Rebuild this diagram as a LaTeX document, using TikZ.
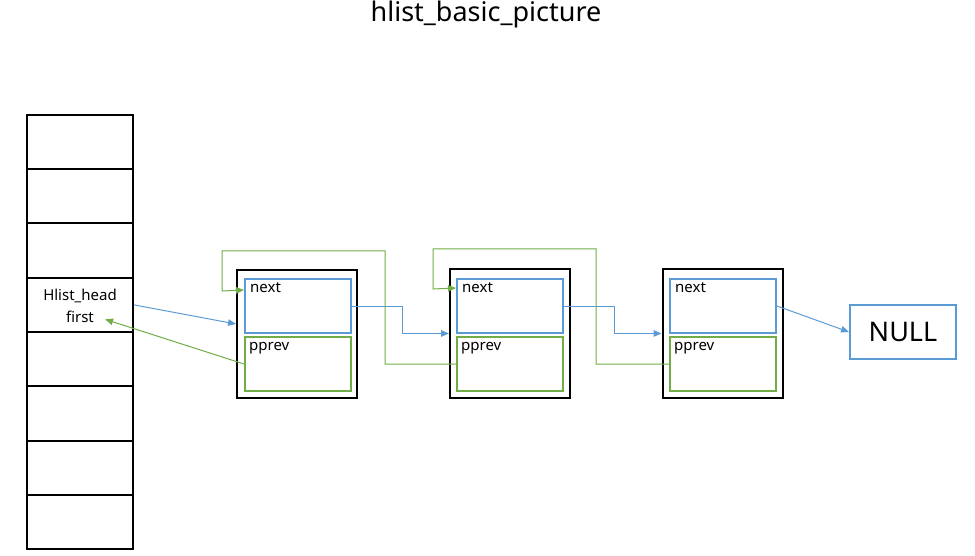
\documentclass[tikz,border=0pt]{standalone}
\usepackage{fontspec}
\setmainfont{Noto Sans}
\usepackage{xcolor}
\usetikzlibrary{arrows.meta}
\definecolor{nextblue}{HTML}{5B9BD5}
\definecolor{prevgreen}{HTML}{70AD47}

\begin{document}
\begin{tikzpicture}[x=1pt,y=-1pt,
    cell/.style={draw,line width=2pt,minimum width=106pt,minimum height=54.25pt,inner sep=0pt},
    entry/.style={draw,line width=2pt,minimum width=120pt,minimum height=128pt,inner sep=0pt},
    nextbox/.style={draw=nextblue,line width=2pt,minimum width=106pt,minimum height=54pt,inner sep=0pt},
    prevbox/.style={draw=prevgreen,line width=2pt,minimum width=106pt,minimum height=54pt,inner sep=0pt},
    tag/.style={anchor=base west,inner sep=0pt,font=\fontsize{15}{18}\selectfont},
    bline/.style={nextblue,line width=1pt,-{Triangle[length=8pt,width=6.5pt]}},
    gline/.style={prevgreen,line width=1pt,-{Triangle[length=8pt,width=6.5pt]}}]
    \useasboundingbox (0,0) rectangle (975,556);

    % title
    \node[font=\fontsize{27}{32}\selectfont] (title) at (486,14) {hlist\_basic\_picture};

    % hash table
    \foreach \i in {1,...,8}
        \node[cell] (r\i) at (80,{115+54.25*(\i-0.5)}) {};
    \node[anchor=base,inner sep=1pt,font=\fontsize{15}{18}\selectfont] (hname) at (80,301) {Hlist\_head};
    \node[anchor=base,inner sep=1pt,font=\fontsize{15}{18}\selectfont] (hfirst) at (80,322) {first};

    % list entries
    \node[entry] (n1) at (297,334) {};
    \node[nextbox] (nx1) at (298,306) {};
    \node[prevbox] (pv1) at (298,364) {};

    \node[entry] (n2) at (510,333.5) {};
    \node[nextbox] (nx2) at (510,306) {};
    \node[prevbox] (pv2) at (510,364) {};

    \node[entry] (n3) at (722.5,333.5) {};
    \node[nextbox] (nx3) at (723,306) {};
    \node[prevbox] (pv3) at (723,364) {};

    % field names
    \foreach \k in {1,2,3} {
        \node[tag] (nt\k) at ([xshift=6pt,yshift=-15pt]nx\k.north west) {next};
        \node[tag] (pt\k) at ([xshift=5pt,yshift=-14pt]pv\k.north west) {pprev};
    }

    \node[draw=nextblue,line width=2pt,minimum width=106pt,minimum height=54pt,
        font=\fontsize{27}{32}\selectfont] (null) at (903,332) {NULL};

    % next pointers
    \draw[bline] (r4.east) -- ([yshift=10pt]n1.west);
    \draw[bline] (nx1.east) -- ++(50,0) |- (n2.west);
    \draw[bline] (nx2.east) -- ++(50,0) |- (n3.west);
    \draw[bline] (nx3.east) -- (null.west);

    % pprev pointers
    \draw[gline] (pv1.west) -- ([xshift=10pt,yshift=-3pt]hfirst.east);
    \draw[gline] (pv2.west) -| (385,251) -| (222,291) -- ([yshift=-12pt]nx1.north west);
    \draw[gline] (pv3.west) -| (596,249) -| (433,289) -- ([yshift=-10pt]nx2.north west);
\end{tikzpicture}
\end{document}
